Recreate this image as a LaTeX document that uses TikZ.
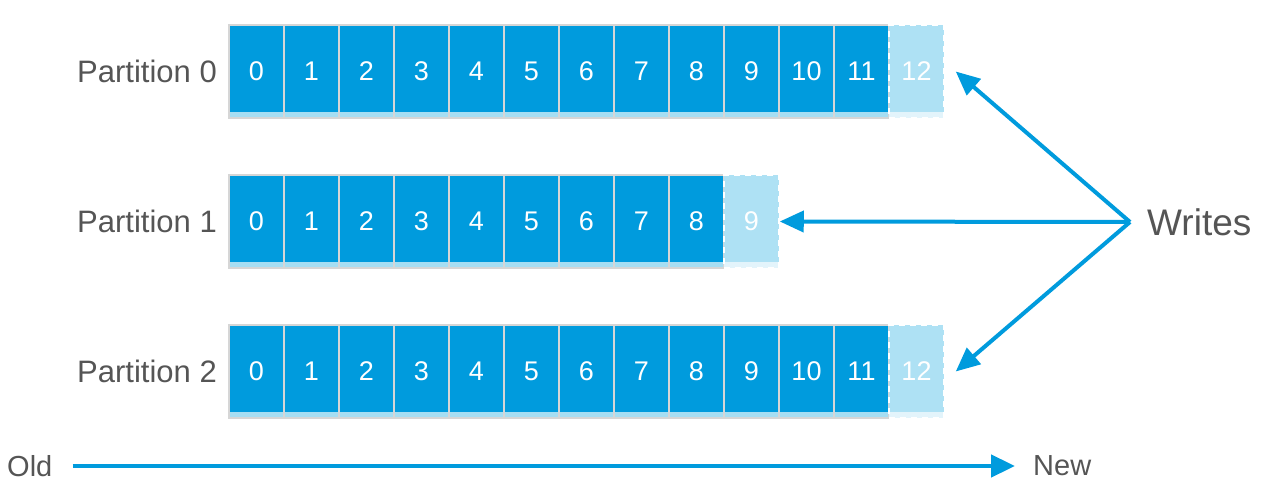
\documentclass[tikz,border=0pt]{standalone}
\usepackage{fontspec}
\setmainfont{Liberation Sans}
\usetikzlibrary{arrows.meta, positioning, calc}
\definecolor{kblue}{HTML}{009BDD}
\definecolor{knew}{HTML}{AEE1F4}
\definecolor{kstrip}{HTML}{A6DEF3}
\definecolor{kpale}{HTML}{E3F4FB}
\definecolor{kgrid}{HTML}{D6D6D6}
\definecolor{ktext}{HTML}{555555}

\begin{document}
\begin{tikzpicture}[
    x=1pt, y=-1pt,
    cell/.style    = {rectangle, minimum width=55pt, minimum height=93pt,
                      inner sep=0pt, fill=kblue, draw=kgrid, line width=1.5pt,
                      text=white, font=\fontsize{27}{27}\selectfont,
                      path picture={\fill[kstrip]
                        ([yshift=6pt]path picture bounding box.south west)
                        rectangle (path picture bounding box.south east);}},
    newcell/.style = {cell, fill=knew, draw=white, dash pattern=on 6pt off 5pt,
                      path picture={\fill[kpale]
                        ([yshift=6pt]path picture bounding box.south west)
                        rectangle (path picture bounding box.south east);}},
    lbl/.style     = {text=ktext, inner sep=0pt, font=\fontsize{29}{29}\selectfont},
    warrow/.style  = {-{Triangle[length=24pt, width=21pt]}, line width=4pt, kblue},
    tarrow/.style  = {-{Triangle[length=24pt, width=22pt]}, line width=4.6pt, kblue}
]
\useasboundingbox (0,0) rectangle (1278,500);

%% -- Partitions ---------------------------------------------
\foreach \r/\last in {0/12, 1/9, 2/12} {
  \pgfmathsetmacro{\ypos}{71.5+150*\r}
  \node[lbl, anchor=east, font=\fontsize{31}{31}\selectfont] (part\r) at (217,\ypos) {Partition \r};
  \pgfmathtruncatemacro{\prev}{\last-1}
  \foreach \c in {0,...,\prev}
    \node[cell] (p\r c\c) at (256.5+55*\c,\ypos) {\c};
  \node[newcell] (p\r c\last) at (256.5+55*\last,\ypos) {\last};
}

%% -- Writes -------------------------------------------------
\coordinate (hub) at (1130,222);
\node[lbl, anchor=west, right=17pt of hub, font=\fontsize{37}{37}\selectfont] (writes) {Writes};

\draw[warrow] (hub) -- ([xshift=11pt]p0c12.east);
\draw[warrow] (hub) -- (p1c9.east);
\draw[warrow] (hub) -- ([xshift=11pt]p2c12.east);

%% -- Old -> New ---------------------------------------------
\node[lbl, anchor=west] (old) at (7,466) {Old};
\node[lbl, anchor=west] (new) at (1033,466) {New};
\draw[tarrow] ([xshift=20pt]old.east) -- ([xshift=-18pt]new.west);

\end{tikzpicture}
\end{document}
